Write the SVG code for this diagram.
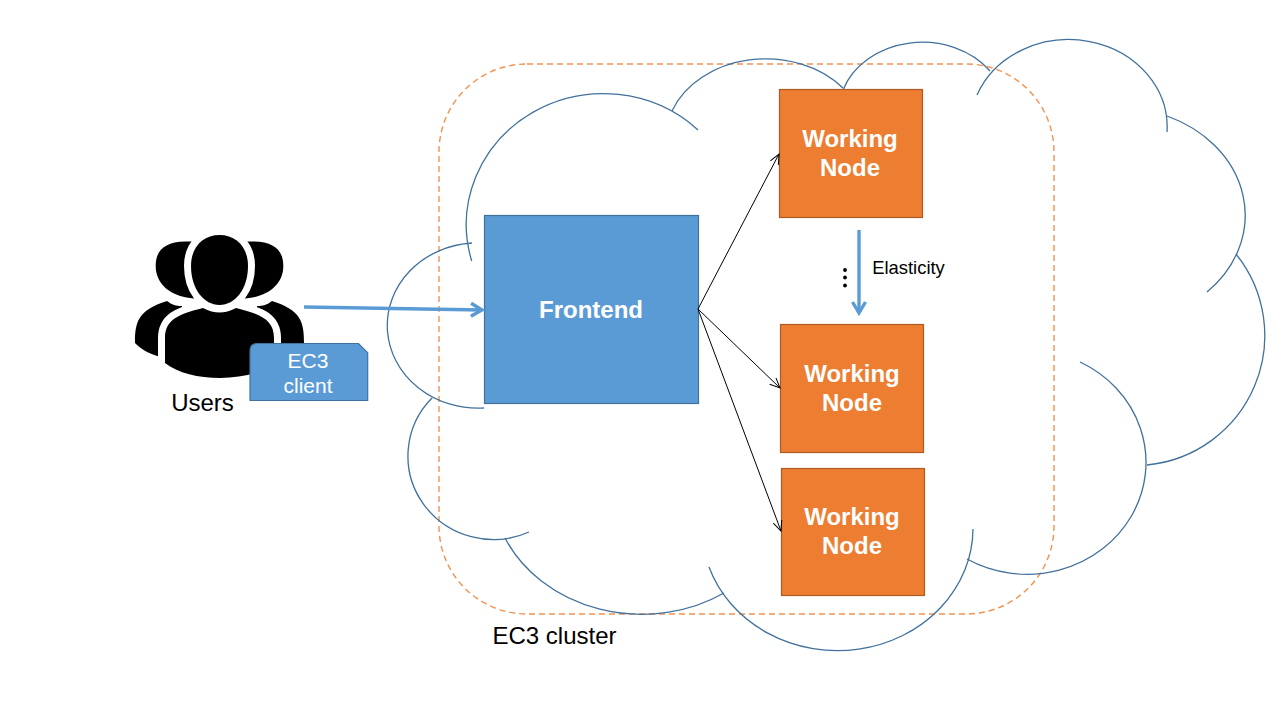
<svg xmlns="http://www.w3.org/2000/svg" width="1280" height="720" viewBox="0 0 1280 720">
<style>
text{font-family:"Liberation Sans",Arial,sans-serif;text-anchor:middle}
.lbl{fill:#000}
.w{fill:#fff;font-weight:bold;font-size:24px}
.wn{fill:#ED7D31;stroke:#AE5A21;stroke-width:1.2}
.fe{fill:#5B9BD5;stroke:#41719C;stroke-width:1.2}
.cloud{fill:none;stroke:#41719C;stroke-width:1.3}
.thin{fill:none;stroke:#000;stroke-width:1;marker-end:url(#open)}
.thick{fill:none;stroke:#5B9BD5;stroke-width:3.4;marker-end:url(#openBlue)}
.p{fill:#000}
.pw{fill:#000;stroke:#fff;stroke-width:14;paint-order:stroke}
</style>
<defs>
<marker id="open" markerUnits="userSpaceOnUse" markerWidth="14" markerHeight="14" refX="11" refY="7" orient="auto"><path d="M1 2.500L11 7L1 11.500" fill="none" stroke="#000" stroke-width="1"/></marker>
<marker id="openBlue" markerUnits="userSpaceOnUse" markerWidth="20" markerHeight="20" refX="14" refY="10" orient="auto"><path d="M3 3.500L14 10L3 16.500" fill="none" stroke="#5B9BD5" stroke-width="3.400"/></marker>
</defs>
<rect id="cluster" x="439" y="64" width="615" height="550" rx="88" ry="88" fill="none" stroke="#F4914F" stroke-width="1.4" stroke-dasharray="6 4"/>
<g id="cloud">
<path class="cloud" d="M472 243A90 82 0 0 0 484 408"/>
<path class="cloud" d="M471.700 261A137 131 0 0 1 698 130"/>
<path class="cloud" d="M672 111A100 80 0 0 1 843 88"/>
<path class="cloud" d="M843 90A83.500 69.500 0 0 1 990 71"/>
<path class="cloud" d="M977 95A98.500 87.500 0 0 1 1167 132"/>
<path class="cloud" d="M1167 116A129 108 0 0 1 1207 292"/>
<path class="cloud" d="M1236 254A130 130 0 0 1 1147 465"/>
<path class="cloud" d="M1080 362A119 112 0 1 1 967 559"/>
<path class="cloud" d="M973 529A135.500 122.500 0 0 1 709 567"/>
<path class="cloud" d="M724 593A150 130 0 0 1 505 538"/>
<path class="cloud" d="M529 532A85.500 83.500 0 0 1 432 398"/>
</g>
<g id="users">
<path class="p" d="M155.700 266C155.700 250 165 242 185 241.500L205 241.500L205 300L190 298C172 296 155.700 285 155.700 266Z"/>
<path class="p" d="M283.300 266C283.300 250 274 242 254 241.500L234 241.500L234 300L249 298C267 296 283.300 285 283.300 266Z"/>
<path class="p" d="M135 343C135 322 138 310 167 301C172 305 176 306 182 306L182 360L157 356C148 353 141 349 135 343Z"/>
<path class="p" d="M304 343C304 322 301 310 272 301C267 305 263 306 257 306L257 360L282 356C291 353 298 349 304 343Z"/>
<path class="pw" d="M165 363L165 338C165 320 178 314 203 308C215 314 224 314 236 308C261 314 274 320 274 338L274 363C250 383 190 383 165 363Z"/>
<path class="pw" d="M219.500 235C236 235 248 247 248 266C248 289 235 305 219.500 305C204 305 191 289 191 266C191 247 203 235 219.500 235Z"/>
<text class="lbl" x="202.500" y="411" font-size="24">Users</text>
</g>
<g id="ec3-client">
<path class="fe" d="M257 343.500L358.500 343.500L367.700 352.700L367.700 400.500L250 400.500L250 350.500Q250 343.500 257 343.500Z"/>
<text x="308" y="368" font-size="21" fill="#fff">EC3</text>
<text x="308" y="393" font-size="21" fill="#fff">client</text>
</g>
<g id="frontend">
<rect class="fe" x="484.500" y="215.500" width="214" height="188"/>
<text class="w" x="591" y="318">Frontend</text>
</g>
<g id="worker-1">
<rect class="wn" x="779.500" y="89.500" width="143" height="128"/>
<text class="w" x="850" y="147">Working</text>
<text class="w" x="850" y="176">Node</text>
</g>
<g id="worker-2">
<rect class="wn" x="780.500" y="324.500" width="143" height="128"/>
<text class="w" x="852" y="382">Working</text>
<text class="w" x="852" y="411">Node</text>
</g>
<g id="worker-3">
<rect class="wn" x="781.500" y="468.500" width="143" height="127"/>
<text class="w" x="852" y="525">Working</text>
<text class="w" x="852" y="554">Node</text>
</g>
<g id="connectors">
<path class="thick" d="M304 307L482 310"/>
<path class="thin" d="M698 309L779 154"/>
<path class="thin" d="M698 309L780 388"/>
<path class="thin" d="M698 309L781 531"/>
<path class="thick" d="M859 230L859 313"/>
</g>
<g id="elasticity">
<circle cx="845" cy="270" r="1.900"/><circle cx="845" cy="277.500" r="1.900"/><circle cx="845" cy="285.500" r="1.900"/>
<text class="lbl" x="908.500" y="274" font-size="18.400">Elasticity</text>
</g>
<text class="lbl" x="554.500" y="644" font-size="24">EC3 cluster</text>
</svg>
